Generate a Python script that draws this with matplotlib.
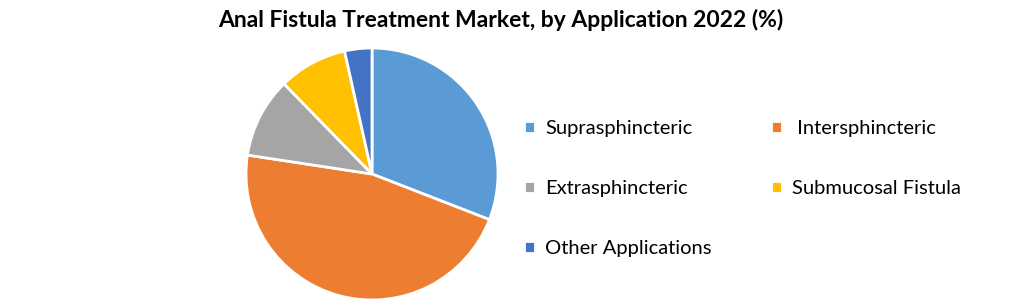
import matplotlib.pyplot as plt

labels = ['Suprasphincteric', ' Intersphincteric', 'Extrasphincteric',
          'Submucosal Fistula', 'Other Applications']
shares = [30.9, 46.5, 10.3, 8.8, 3.5]
colors = ['#5B9BD5', '#ED7D31', '#A5A5A5', '#FFC000', '#4472C4']

plt.rcParams['font.family'] = ['Lato', 'DejaVu Sans']

W, H = 1021, 304
fig = plt.figure(figsize=(W / 100, H / 100), dpi=100)

# pie centred at (372, 174) px with radius ~126 px
cx, cy, r = 372, 174, 126
ax = fig.add_axes([(cx - r) / W, (H - cy - r) / H, 2 * r / W, 2 * r / H])
wedges, _ = ax.pie(shares, colors=colors, startangle=90, counterclock=False,
                   wedgeprops=dict(edgecolor='white', linewidth=2))
ax.set_xlim(-1, 1)
ax.set_ylim(-1, 1)
ax.set_aspect('auto')

fig.text(501 / W, 1 - 20 / H, 'Anal Fistula Treatment Market, by Application 2022 (%)',
         ha='center', va='center', fontsize=16.5, fontweight='bold')

# row-major legend order for two columns
order = [0, 2, 4, 1, 3]
fig.legend([wedges[i] for i in order], [labels[i] for i in order],
           ncol=2, loc='upper left', bbox_to_anchor=(506 / W, 1 - 102 / H),
           frameon=False, fontsize=14.5, handlelength=0.55, handleheight=0.55,
           handletextpad=0.5, labelspacing=2.13, columnspacing=2.95)

fig.savefig('out.png', dpi=100)
